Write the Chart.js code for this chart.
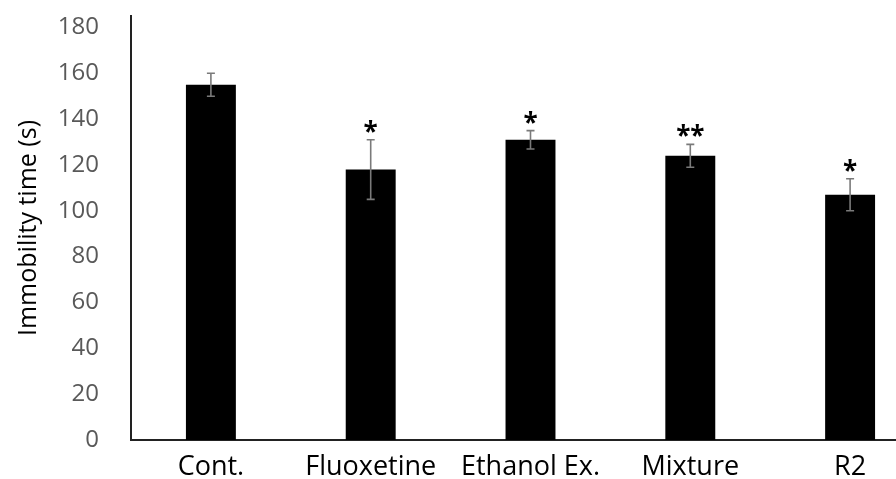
<!DOCTYPE html>
<html>
<head>
<meta charset="utf-8">
<script src="https://cdn.jsdelivr.net/npm/chart.js@4.4.1/dist/chart.umd.min.js"></script>
<style>
  html, body { margin: 0; padding: 0; background: #fff; overflow: hidden; width: 896px; height: 479px; }
  #c { position: absolute; left: 0; top: 0; }
</style>
</head>
<body>
<canvas id="c" width="930" height="479"></canvas>
<script>
const categories = ['Cont.', 'Fluoxetine', 'Ethanol Ex.', 'Mixture', 'R2'];
const means = [155, 118, 131, 124, 107];
const errors = [5, 13, 4, 5, 7];
const marks = ['', '*', '*', '**', '*'];
const yTicks = [0, 20, 40, 60, 80, 100, 120, 140, 160, 180];
const yMin = 0;
const yMax = 185;

const errorBarPlugin = {
  id: 'errorBars',
  afterDatasetsDraw(chart) {
    const ctx = chart.ctx;
    const meta = chart.getDatasetMeta(0);
    const ys = chart.scales.y;
    ctx.save();
    meta.data.forEach((bar, i) => {
      const x = bar.x;
      const top = ys.getPixelForValue(means[i] + errors[i]);
      const bot = ys.getPixelForValue(means[i] - errors[i]);
      ctx.strokeStyle = '#7a7a7a';
      ctx.lineWidth = 1.6;
      ctx.beginPath();
      ctx.moveTo(x, top); ctx.lineTo(x, bot);
      ctx.moveTo(x - 4, top); ctx.lineTo(x + 4, top);
      ctx.moveTo(x - 4, bot); ctx.lineTo(x + 4, bot);
      ctx.stroke();
      if (marks[i]) {
        ctx.fillStyle = '#000';
        ctx.font = 'bold 26px "Open Sans"';
        ctx.textAlign = 'center';
        ctx.textBaseline = 'alphabetic';
        ctx.fillText(marks[i], x, top + 1);
      }
    });
    ctx.restore();
  }
};

new Chart(document.getElementById('c'), {
  type: 'bar',
  data: {
    labels: categories,
    datasets: [{
      data: means,
      backgroundColor: '#000',
      borderWidth: 0,
      barPercentage: 1,
      categoryPercentage: 0.3125
    }]
  },
  options: {
    responsive: false,
    animation: false,
    layout: { padding: { top: 16, right: 0, left: 0, bottom: 0 } },
    plugins: { legend: { display: false }, tooltip: { enabled: false } },
    scales: {
      x: {
        grid: { display: false, drawTicks: false, tickLength: 0 },
        border: { display: true, color: '#222', width: 2 },
        ticks: { color: '#000', font: { family: 'Open Sans', size: 27 }, padding: 11, maxRotation: 0 },
        afterFit(scale) { scale.height = 39; }
      },
      y: {
        min: yMin,
        max: yMax,
        grid: { display: false, drawTicks: false, tickLength: 0 },
        border: { display: true, color: '#222', width: 2 },
        ticks: { color: '#595959', font: { family: 'Open Sans', size: 24 }, padding: 32 },
        afterBuildTicks(scale) { scale.ticks = yTicks.map(v => ({ value: v })); },
        title: {
          display: true,
          text: 'Immobility time (s)',
          color: '#000',
          font: { family: 'Open Sans', size: 25 },
          padding: { top: 14, bottom: 0 }
        },
        afterFit(scale) { scale.width = 131; scale.paddingTop = 0; scale.paddingBottom = 0; }
      }
    }
  },
  plugins: [errorBarPlugin]
});
</script>
</body>
</html>
